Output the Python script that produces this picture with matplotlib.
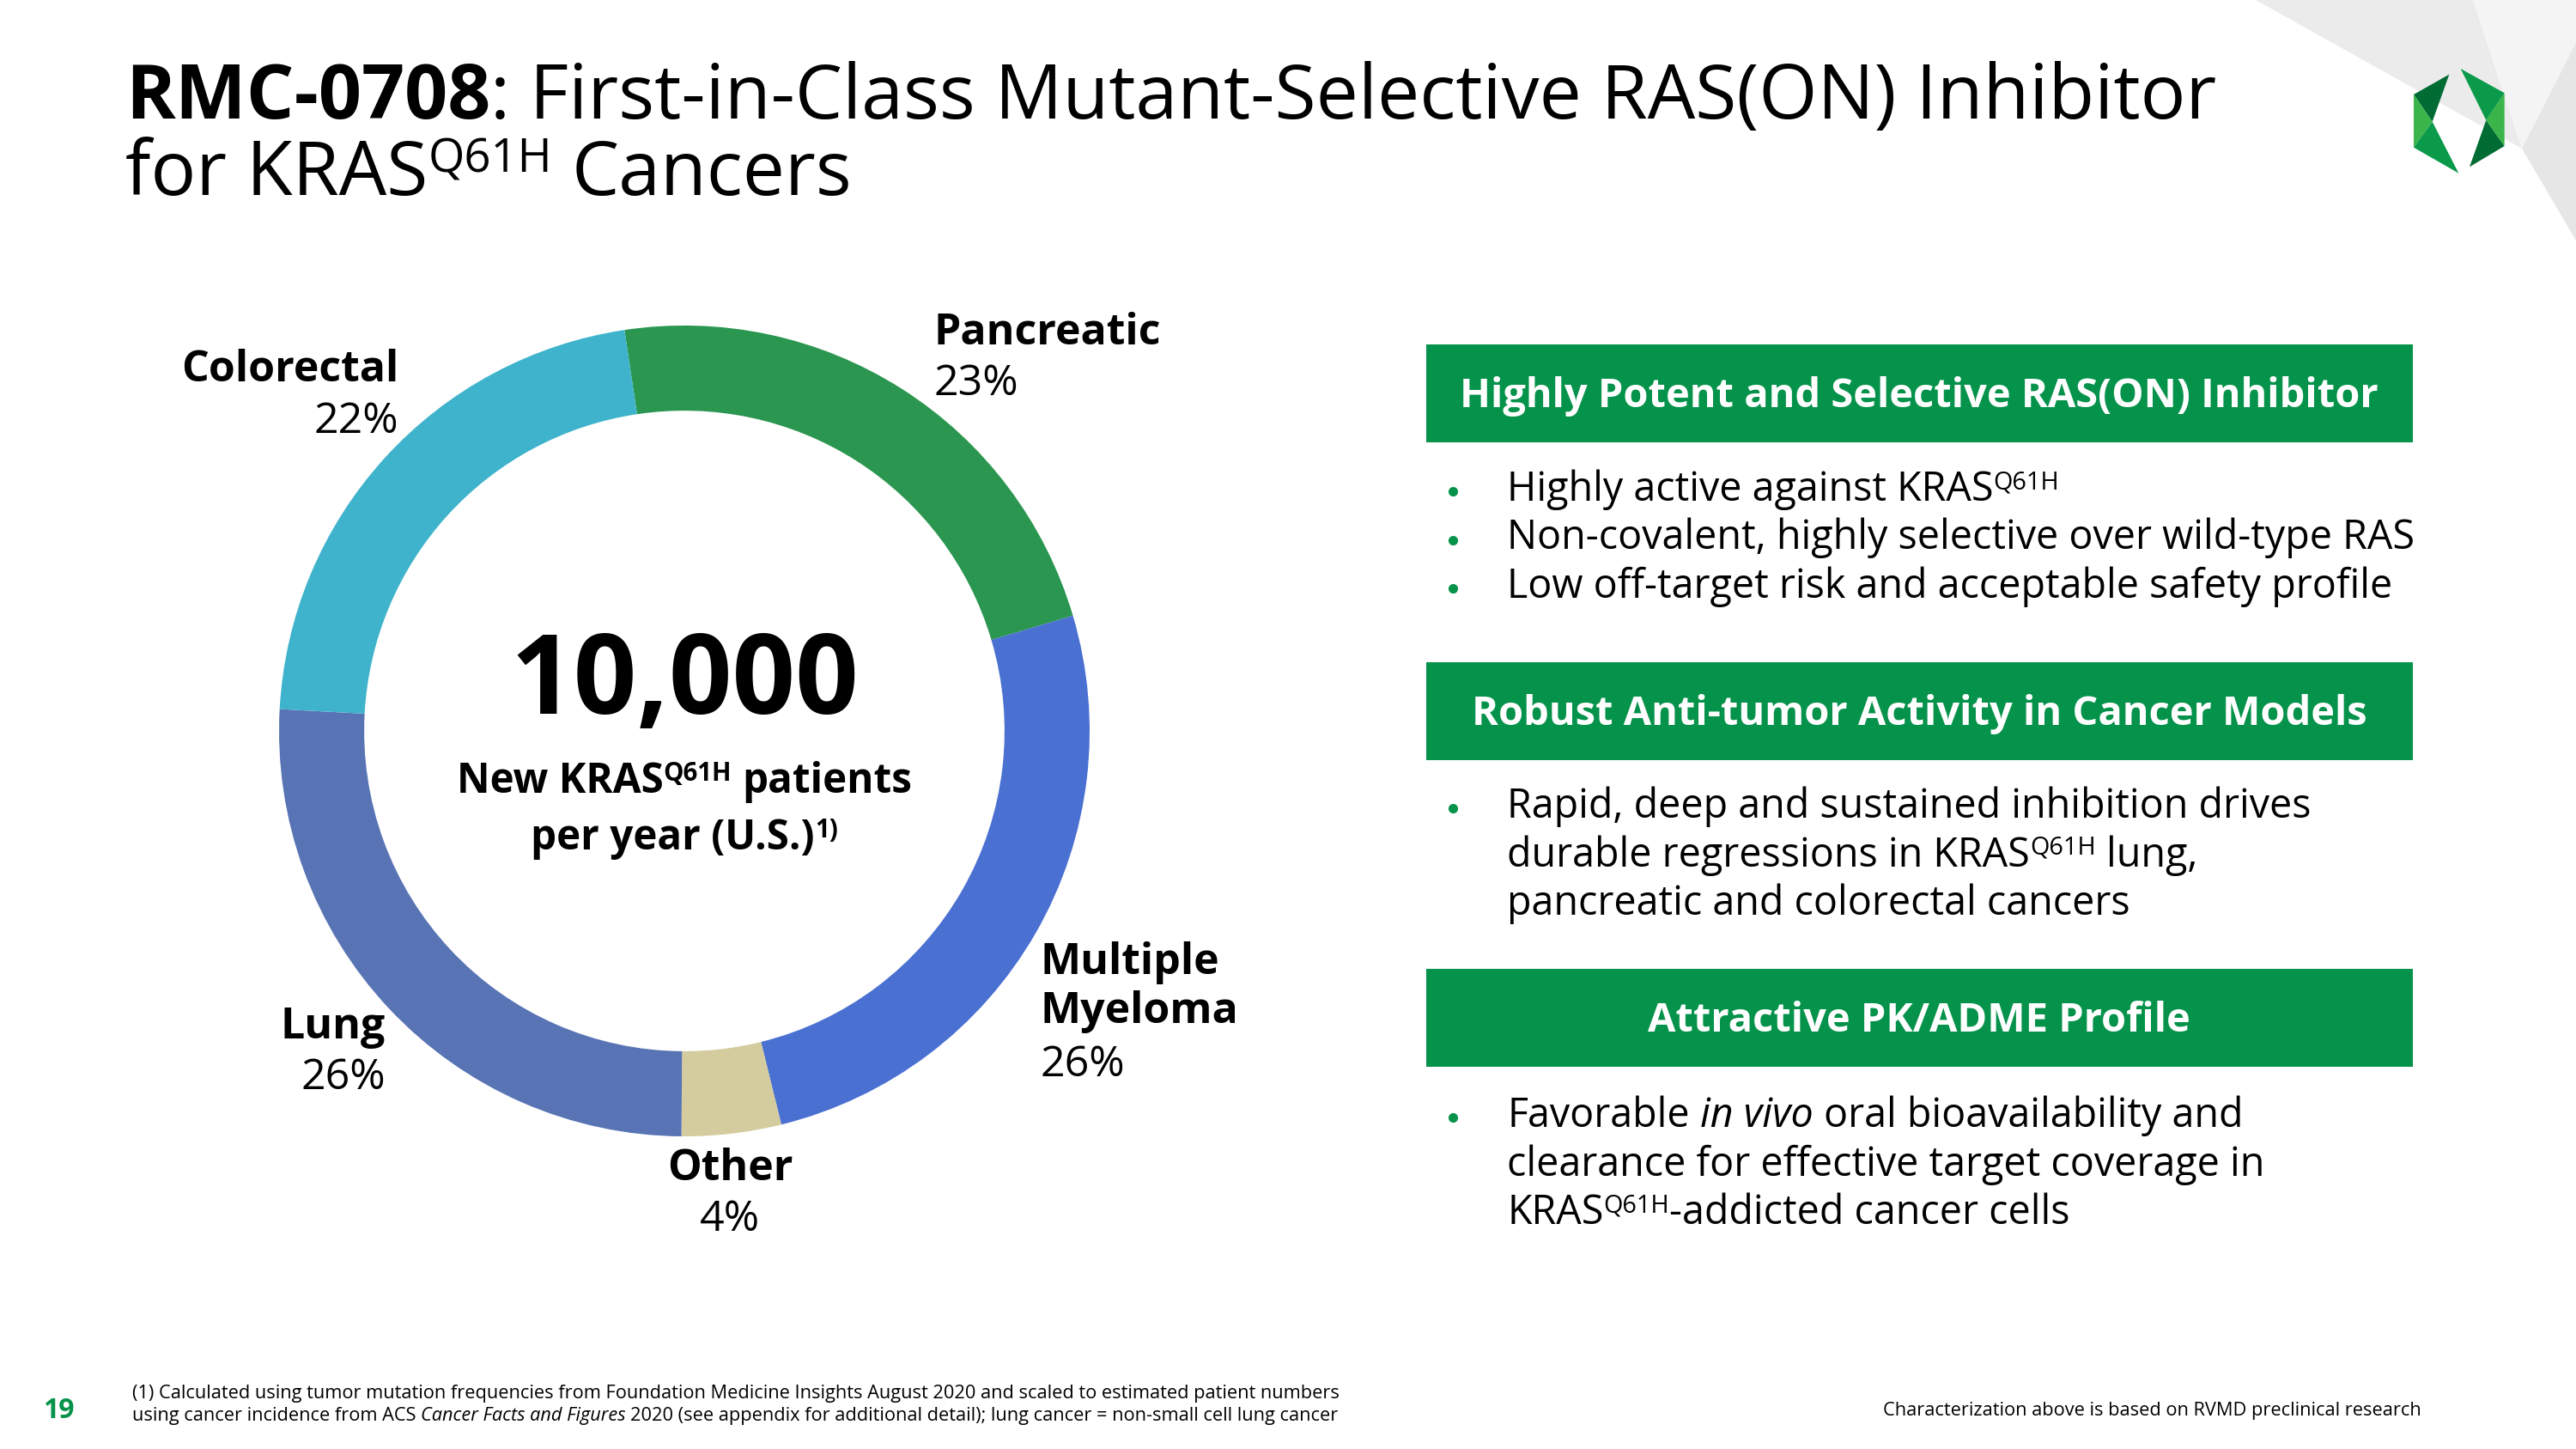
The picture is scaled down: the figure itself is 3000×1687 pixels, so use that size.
import matplotlib
matplotlib.use("Agg")
import matplotlib.pyplot as plt
from matplotlib.patches import Polygon, Rectangle

W, H = 3000, 1687
plt.rcParams['font.family'] = ['Open Sans', 'DejaVu Sans']

# donut data (clockwise from the top)
segments = ['Pancreatic', 'Multiple Myeloma', 'Other', 'Lung', 'Colorectal']
shares = [23, 26, 4, 26, 22]
seg_colors = ['#2a9650', '#4a70d1', '#d4cc9f', '#5874b4', '#3fb3cc']
share_labels = ['23%', '26%', '4%', '26%', '22%']

center_number = '10,000'

# right panel: header + bullet lines, runs are (text, kind) n=normal s=superscript i=italic
headers = ['Highly Potent and Selective RAS(ON) Inhibitor',
           'Robust Anti-tumor Activity in Cancer Models',
           'Attractive PK/ADME Profile']
bullets = [
    [[[('Highly active against KRAS', 'n'), ('Q61H', 's')]],
     [[('Non-covalent, highly selective over wild-type RAS', 'n')]],
     [[('Low off-target risk and acceptable safety profile', 'n')]]],
    [[[('Rapid, deep and sustained inhibition drives', 'n')],
      [('durable regressions in KRAS', 'n'), ('Q61H', 's'), (' lung,', 'n')],
      [('pancreatic and colorectal cancers', 'n')]]],
    [[[('Favorable ', 'n'), ('in vivo', 'i'), (' oral bioavailability and', 'n')],
      [('clearance for effective target coverage in', 'n')],
      [('KRAS', 'n'), ('Q61H', 's'), ('-addicted cancer cells', 'n')]]],
]

footnote = [[('(1) Calculated using tumor mutation frequencies from Foundation Medicine Insights August 2020 and scaled to estimated patient numbers', 'n')],
            [('using cancer incidence from ACS ', 'n'), ('Cancer Facts and Figures', 'i'),
             (' 2020 (see appendix for additional detail); lung cancer = non-small cell lung cancer', 'n')]]

GREEN = '#05924a'

fig = plt.figure(figsize=(W / 100, H / 100), dpi=100)
fig.patch.set_facecolor('white')

# donut
pax = fig.add_axes([(797 - 472) / W, (H - 851 - 472) / H, 944 / W, 944 / H])
pax.pie(shares, colors=seg_colors, startangle=98.5, counterclock=False,
        wedgeprops=dict(width=0.21, linewidth=0))
pax.set_xlim(-1, 1)
pax.set_ylim(-1, 1)

# overlay axes in pixel coordinates
ax = fig.add_axes([0, 0, 1, 1])
ax.set_xlim(0, W)
ax.set_ylim(H, 0)
ax.axis('off')
ax.patch.set_alpha(0)
rend = fig.canvas.get_renderer()


def text_w(s, size, weight='normal', style='normal'):
    t1 = ax.text(0, 0, '|' + s + '|', fontsize=size, fontweight=weight, fontstyle=style)
    t2 = ax.text(0, 0, '||', fontsize=size, fontweight=weight, fontstyle=style)
    w = t1.get_window_extent(rend).width - t2.get_window_extent(rend).width
    t1.remove()
    t2.remove()
    return w


def draw_runs(x, y, runs, size, weight='normal', color='black', ha='left'):
    sup = 0.62
    parts = []
    for s, kind in runs:
        fs = size * sup if kind == 's' else size
        st = 'italic' if kind == 'i' else 'normal'
        parts.append((s, kind, fs, st, text_w(s, fs, weight, st)))
    total = sum(p[4] for p in parts)
    if ha == 'center':
        x -= total / 2
    elif ha == 'right':
        x -= total
    for s, kind, fs, st, w in parts:
        lead = s[:len(s) - len(s.lstrip())]
        dx = text_w(lead, fs, weight, st) if lead else 0
        dy = size * 0.30 * 100 / 72 if kind == 's' else 0
        ax.text(x + dx, y - dy, s.strip(), fontsize=fs, fontweight=weight, fontstyle=st,
                color=color, ha='left', va='baseline')
        x += w


# grey corner shapes
P = (2937, 173)
ax.add_patch(Polygon([(2627, 0), (2880, 0), P], closed=True, color='#ebebeb', lw=0))
ax.add_patch(Polygon([(2880, 0), (3000, 0), (3000, 50), P], closed=True, color='#f4f4f4', lw=0))
ax.add_patch(Polygon([(3000, 50), P, (3000, 280)], closed=True, color='#e6e6e6', lw=0))

# logo
def lp(pts):
    return [(2600 + a / 3, b / 3) for a, b in pts]
logo = [
    ([(633, 330), (757, 260), (698, 425)], '#006b33'),
    ([(633, 330), (698, 425), (633, 515)], '#3ab54a'),
    ([(633, 515), (698, 425), (790, 605)], '#0a9a4a'),
    ([(950, 510), (828, 583), (886, 420)], '#006b33'),
    ([(950, 510), (886, 420), (950, 325)], '#3ab54a'),
    ([(950, 325), (886, 420), (797, 240)], '#0a9a4a'),
]
for pts, c in logo:
    ax.add_patch(Polygon(lp(pts), closed=True, color=c, lw=0))

# title
TS = 63.2
draw_runs(146, 138, [('RMC-0708', 'n')], TS, weight='bold')
x0 = 146 + text_w('RMC-0708', TS, 'bold')
draw_runs(x0, 138, [(': First-in-Class Mutant-Selective RAS(ON) Inhibitor', 'n')], TS)
draw_runs(146, 227, [('for KRAS', 'n'), ('Q61H', 's'), (' Cancers', 'n')], TS)

# donut labels
LS = 36
draw_runs(1087, 401, [('Pancreatic', 'n')], LS, weight='bold')
draw_runs(1087, 460, [(share_labels[0], 'n')], LS)
draw_runs(1212, 1134, [('Multiple', 'n')], LS, weight='bold')
draw_runs(1212, 1191, [('Myeloma', 'n')], LS, weight='bold')
draw_runs(1212, 1253, [(share_labels[1], 'n')], LS)
draw_runs(850, 1374, [(segments[2], 'n')], LS, weight='bold', ha='center')
draw_runs(850, 1433, [(share_labels[2], 'n')], LS, ha='center')
draw_runs(449, 1209, [(segments[3], 'n')], LS, weight='bold', ha='right')
draw_runs(449, 1268, [(share_labels[3], 'n')], LS, ha='right')
draw_runs(464, 444, [(segments[4], 'n')], LS, weight='bold', ha='right')
draw_runs(464, 504, [(share_labels[4], 'n')], LS, ha='right')

# donut centre
draw_runs(797, 831, [(center_number, 'n')], 93, weight='bold', ha='center')
draw_runs(797, 923, [('New KRAS', 'n'), ('Q61H', 's'), (' patients', 'n')], 34.3, weight='bold', ha='center')
draw_runs(797, 989, [('per year (U.S.)', 'n'), ('1)', 's')], 34.3, weight='bold', ha='center')

# right panel
box_tops = [401, 771, 1128]
box_h = 114
first_base = [583, 952, 1312]
line_gap = 56.5
for i, head in enumerate(headers):
    ax.add_patch(Rectangle((1661, box_tops[i]), 2810 - 1661, box_h, color=GREEN, lw=0))
    draw_runs(2235, box_tops[i] + box_h / 2 + 16, [(head, 'n')], 33.8, weight='bold', color='white', ha='center')
    y = first_base[i]
    for item in bullets[i]:
        ax.plot(1692, y - 11, 'o', color=GREEN, ms=8, mec='none')
        for line in item:
            draw_runs(1755, y, line, 33.6)
            y += line_gap

# footer
draw_runs(50, 1651, [('19', 'n')], 23, weight='bold', color=GREEN)
draw_runs(154, 1628, footnote[0], 15.7)
draw_runs(154, 1654, footnote[1], 15.7)
draw_runs(2820, 1648, [('Characterization above is based on RVMD preclinical research', 'n')], 15.7, ha='right')

fig.savefig('out.png', dpi=100, facecolor='white')
